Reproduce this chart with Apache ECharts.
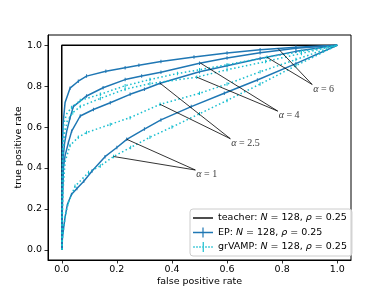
<!DOCTYPE html>
<html>
<head>
<meta charset="utf-8">
<script src="https://cdn.jsdelivr.net/npm/echarts@6/dist/echarts.min.js"></script>
<style>html,body{margin:0;padding:0;background:#fff}#c{width:390px;height:293px}</style>
</head>
<body>
<div id="c"></div>
<script>
// ---- data ----
const tickValues = [0, 0.2, 0.4, 0.6, 0.8, 1.0];
const teacher = [[0, 0], [0, 1], [1, 1]];
const epA6 = [[0,0],[0.001,0.3],[0.002,0.5],[0.005,0.62],[0.012,0.72],[0.03,0.79],[0.06,0.824],[0.09,0.849],[0.16,0.873],[0.23,0.89],[0.28,0.902],[0.36,0.92],[0.48,0.942],[0.6,0.962],[0.72,0.978],[0.85,0.99],[1,1]];
const epA4 = [[0,0],[0.002,0.3],[0.005,0.45],[0.01,0.52],[0.018,0.58],[0.03,0.645],[0.042,0.7],[0.09,0.752],[0.15,0.792],[0.23,0.832],[0.29,0.85],[0.36,0.868],[0.5,0.912],[0.6,0.938],[0.72,0.963],[0.85,0.985],[1,1]];
const epA25 = [[0,0],[0.002,0.2],[0.006,0.4],[0.012,0.46],[0.024,0.524],[0.036,0.58],[0.067,0.654],[0.115,0.686],[0.176,0.719],[0.248,0.76],[0.3,0.785],[0.357,0.814],[0.5,0.87],[0.6,0.9],[0.72,0.935],[0.85,0.97],[1,1]];
const epA1 = [[0,0],[0.002,0.05],[0.006,0.1],[0.012,0.16],[0.02,0.22],[0.035,0.27],[0.055,0.3],[0.08,0.335],[0.11,0.385],[0.157,0.455],[0.2,0.5],[0.236,0.54],[0.3,0.59],[0.36,0.635],[0.47,0.7],[0.59,0.765],[0.71,0.83],[0.85,0.91],[1,1]];
const gvA6 = [[0,0],[0.001,0.3],[0.003,0.5],[0.008,0.62],[0.018,0.665],[0.035,0.695],[0.067,0.73],[0.14,0.76],[0.23,0.802],[0.32,0.832],[0.42,0.862],[0.5,0.88],[0.6,0.905],[0.745,0.941],[0.87,0.97],[1,1]];
const gvA4 = [[0,0],[0.001,0.25],[0.004,0.45],[0.01,0.57],[0.02,0.63],[0.04,0.67],[0.067,0.7],[0.14,0.74],[0.23,0.785],[0.32,0.812],[0.49,0.844],[0.6,0.88],[0.74,0.92],[0.87,0.96],[1,1]];
const gvA25 = [[0,0],[0.002,0.15],[0.005,0.3],[0.012,0.43],[0.03,0.51],[0.06,0.55],[0.09,0.573],[0.176,0.613],[0.248,0.646],[0.357,0.711],[0.5,0.765],[0.6,0.81],[0.72,0.87],[0.85,0.93],[1,1]];
const gvA1 = [[0,0],[0.003,0.06],[0.008,0.12],[0.015,0.18],[0.024,0.23],[0.048,0.31],[0.097,0.378],[0.14,0.41],[0.188,0.456],[0.25,0.5],[0.32,0.55],[0.4,0.6],[0.5,0.665],[0.6,0.73],[0.72,0.81],[0.85,0.9],[1,1]];
const annotLabels = ['6', '4', '2.5', '1'];
const annotAnchors = [[0.909, 0.808], [0.784, 0.678], [0.612, 0.543], [0.485, 0.39]];
const annotEP = [[0.785, 0.984], [0.503, 0.913], [0.357, 0.814], [0.236, 0.54]];
const annotGV = [[0.745, 0.941], [0.49, 0.844], [0.357, 0.711], [0.188, 0.456]];
const legendNames = ['teacher', 'EP', 'grVAMP'];

// ---- styling ----
const EP_COLOR = '#1f77b4', GV_COLOR = '#17becf';
const FONT = 'DejaVu Sans';
function dottedIcon() {
  let p = '';
  for (let x = 0; x < 20; x += 3) p += 'M' + x + ',4.3H' + Math.min(x + 1.5, 20) + 'V5.7H' + x + 'Z';
  return 'path://' + p + 'M9.4,0H10.6V10H9.4Z';
}
const icons = {
  teacher: 'path://M0,4.3H20V5.7H0Z',
  EP: 'path://M0,4.3H20V5.7H0ZM9.4,0H10.6V10H9.4Z',
  grVAMP: dottedIcon()
};
const ERR_BAR = 'path://M0,0H1V10H0Z';

function curve(name, data, color, dotted, bars) {
  return {
    name: name, type: 'line', data: data,
    showSymbol: !!bars, showAllSymbol: true,
    symbol: bars ? ERR_BAR : 'none',
    symbolSize: (v) => (bars && v[0] > 0.02 && v[0] < 0.99 ? [1, 3.5] : 0),
    animation: false, silent: true,
    lineStyle: { color: color, width: 1.5, type: dotted ? [1.5, 2.5] : 'solid' },
    itemStyle: { color: color }, z: 3
  };
}

const segs = [];
annotAnchors.forEach((a, i) => {
  segs.push([{ coord: a }, { coord: annotEP[i] }]);
  segs.push([{ coord: a }, { coord: annotGV[i] }]);
});

const option = {
  animation: false,
  backgroundColor: '#fff',
  grid: { left: 48, top: 35, right: 39, bottom: 33, show: true, borderColor: '#000', borderWidth: 1, backgroundColor: 'transparent' },
  xAxis: {
    type: 'value', min: -0.05, max: 1.05,
    name: 'false positive rate', nameLocation: 'middle', nameGap: 17, nameMoveOverlap: false,
    nameTextStyle: { fontFamily: FONT, fontSize: 9.5, color: '#000' },
    axisLine: { show: true, onZero: false, lineStyle: { color: '#000', width: 1 } },
    axisTick: { show: true, inside: false, length: 3.5, customValues: tickValues, lineStyle: { color: '#000', width: 0.8 } },
    axisLabel: { customValues: tickValues, margin: 5, fontFamily: FONT, fontSize: 9.5, color: '#000', formatter: v => v.toFixed(1) },
    splitLine: { show: false }
  },
  yAxis: {
    type: 'value', min: -0.05, max: 1.05,
    name: 'true positive rate', nameLocation: 'middle', nameGap: 24, nameMoveOverlap: false,
    nameTextStyle: { fontFamily: FONT, fontSize: 9.5, color: '#000' },
    axisLine: { show: true, onZero: false, lineStyle: { color: '#000', width: 1 } },
    axisTick: { show: true, inside: false, length: 3.5, customValues: tickValues, lineStyle: { color: '#000', width: 0.8 } },
    axisLabel: { customValues: tickValues, margin: 6, fontFamily: FONT, fontSize: 9.5, color: '#000', formatter: v => v.toFixed(1) },
    splitLine: { show: false }
  },
  legend: {
    orient: 'vertical', left: 190, top: 209,
    padding: [4, 5, 4, 3], itemGap: 4.5, itemWidth: 20, itemHeight: 10,
    backgroundColor: 'rgba(255,255,255,0.8)', borderColor: '#cccccc', borderWidth: 1, borderRadius: 3,
    selectedMode: false,
    data: legendNames.map(n => ({ name: n, icon: icons[n] })),
    formatter: n => n + ': {i|N} = 128, {i|ρ} = 0.25',
    textStyle: {
      fontFamily: FONT, fontSize: 9.5, color: '#000', padding: [0, 0, 0, 0],
      rich: { i: { fontFamily: FONT, fontStyle: 'italic', fontSize: 9.5, color: '#000' } }
    }
  },
  series: [
    curve('teacher', teacher, '#000', false, false),
    curve('EP', epA6, EP_COLOR, false, true),
    curve('EP', epA4, EP_COLOR, false, true),
    curve('EP', epA25, EP_COLOR, false, true),
    curve('EP', epA1, EP_COLOR, false, true),
    curve('grVAMP', gvA6, GV_COLOR, true, true),
    curve('grVAMP', gvA4, GV_COLOR, true, true),
    curve('grVAMP', gvA25, GV_COLOR, true, true),
    curve('grVAMP', gvA1, GV_COLOR, true, true),
    {
      name: 'annot', type: 'scatter', symbolSize: 0, animation: false, silent: true, z: 5,
      data: annotAnchors.map((a, i) => ({ value: a, label: { formatter: '{a|α} = ' + annotLabels[i] } })),
      label: {
        show: true, position: 'right', distance: 1, offset: [0, 4.5],
        fontFamily: 'Liberation Serif', fontSize: 10, color: '#000',
        rich: { a: { fontFamily: 'Liberation Serif', fontStyle: 'italic', fontSize: 10, color: '#000' } }
      },
      markLine: {
        silent: true, symbol: ['none', 'none'], animation: false,
        lineStyle: { color: '#000', width: 0.8, type: 'solid' },
        label: { show: false },
        data: segs
      }
    }
  ]
};
const chart = echarts.init(document.getElementById('c'), null, { renderer: 'canvas' });
chart.setOption(option);
</script>
</body>
</html>
